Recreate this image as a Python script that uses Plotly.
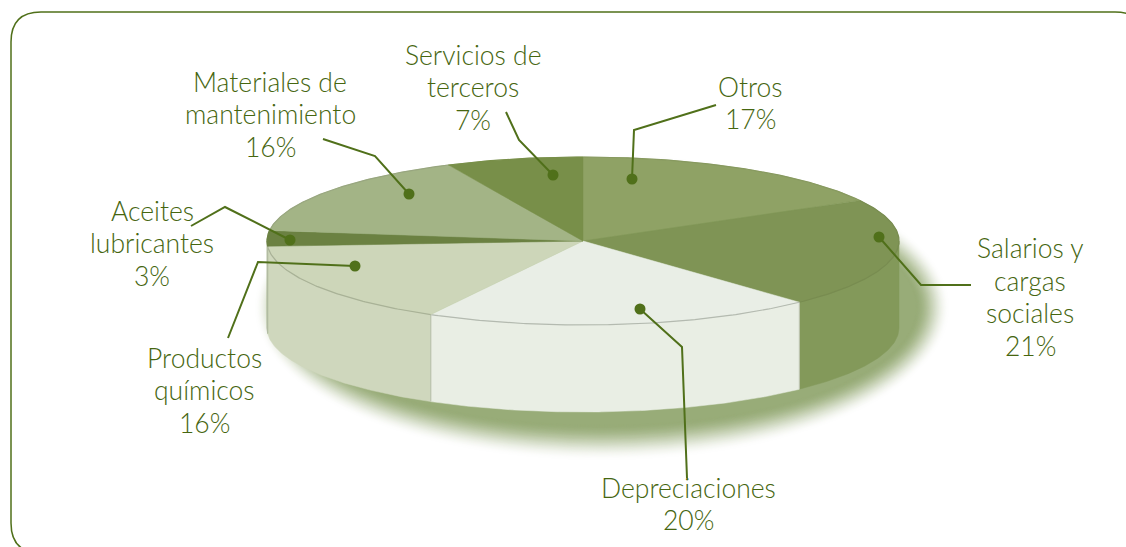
import numpy as np
import plotly.graph_objects as go

# Chart data, clockwise from the top of the pie
categories = ["Otros", "Salarios y<br>cargas<br>sociales", "Depreciaciones", "Productos<br>químicos",
              "Aceites<br>lubricantes", "Materiales de<br>mantenimiento", "Servicios de<br>terceros"]
values = [17, 21, 20, 16, 3, 16, 7]

# Colours of each slice
top_colors = ["#8fa265", "#7f9455", "#e9eee6", "#cdd6b9", "#6b8142", "#a3b486", "#788f49"]
side_colors = ["#8fa265", "#83995a", "#e9eee4", "#cfd7bd", "#6b8142", "#a3b486", "#788f49"]
edge_colors = ["#87995f", "#788c50", "#b4bab0", "#a9b297", "#6b8142", "#98a67f", "#788f49"]

# Where each label goes (pixels) and the leader line running from dot to label
label_pos = [(750, 103), (1030, 297), (688, 504), (204, 390), (152, 243), (270, 114), (473, 87)]
leader_x = [[632, 634, 716], [879, 921, 971], [640, 682, 687], [355, 258, 228],
            [290, 225, 191], [409, 375, 323], [553, 519, 506]]
leader_y = [[179, 130, 105], [237, 285, 285], [309, 347, 478], [266, 262, 338],
            [240, 207, 226], [194, 156, 139], [175, 140, 112]]

GREEN = "#50701a"
TEXT_GREEN = "#466610"
LINE_PITCH = 32.5
CX, CY, RX, RY, DEPTH = 583, 241, 316, 84, 87


def arc(t0, t1, dy=0):
    # points on the pie rim, angles in degrees clockwise from the top
    t = np.radians(np.linspace(t0, t1, max(int(abs(t1 - t0)) * 2, 2)))
    return CX + RX * np.sin(t), CY - RY * np.cos(t) + dy


fig = go.Figure()

# Blurred shadow under the pie, built from stacked ellipses
n_blur = 50
for i in range(n_blur):
    f = (i + 1) / n_blur
    s = f * f * (3 - 2 * f)
    col = "rgb(%d,%d,%d)" % (255 - s * 103, 255 - s * 83, 255 - s * 135)
    gx = 34 * (1 - f)
    gy = 36 * (1 - f)
    fig.add_shape(type="circle", x0=288 - gx, x1=916 + gx, y0=190 - gy, y1=425 + gy,
                  fillcolor=col, line_width=0, layer="below")

ends = np.cumsum(values) / sum(values) * 360
starts = np.concatenate([[0], ends[:-1]])

# Side wall, only the part facing the viewer
for t0, t1, col in zip(starts, ends, side_colors):
    a, b = max(t0, 90), min(t1, 270)
    if b <= a:
        continue
    x, y = arc(a, b)
    xb, yb = arc(a, b, DEPTH)
    fig.add_trace(go.Scatter(x=np.r_[x, xb[::-1], x[0]], y=np.r_[y, yb[::-1], y[0]], mode="lines",
                             fill="toself", fillcolor=col, line=dict(color=col, width=0.5),
                             hoverinfo="skip"))

# Corner lines where two side colours meet
for t in ends:
    if 90 < t < 270:
        x, y = arc(t, t)
        fig.add_trace(go.Scatter(x=[x[0], x[0]], y=[y[0], y[0] + DEPTH], mode="lines",
                                 line=dict(color="#b9c0ac", width=1), hoverinfo="skip"))

# Top of the pie
for t0, t1, col, edge in zip(starts, ends, top_colors, edge_colors):
    x, y = arc(t0, t1)
    fig.add_trace(go.Scatter(x=np.r_[CX, x, CX], y=np.r_[CY, y, CY], mode="lines", fill="toself",
                             fillcolor=col, line=dict(color=col, width=0.5), hoverinfo="skip"))
    fig.add_trace(go.Scatter(x=x, y=y, mode="lines", line=dict(color=edge, width=1.2), hoverinfo="skip"))

# Leader lines and dots
for lx, ly in zip(leader_x, leader_y):
    fig.add_trace(go.Scatter(x=lx, y=ly, mode="lines", line=dict(color=GREEN, width=2), hoverinfo="skip"))
    fig.add_trace(go.Scatter(x=lx[:1], y=ly[:1], mode="markers",
                             marker=dict(color=GREEN, size=11), hoverinfo="skip"))

# One annotation per text line, the default <br> spacing is too wide at this size
for name, val, (px, py) in zip(categories, values, label_pos):
    lines = name.split("<br>") + ["%d%%" % val]
    for i, line in enumerate(lines):
        y = py + (i - (len(lines) - 1) / 2) * LINE_PITCH
        fig.add_annotation(x=px, y=y, text=line, showarrow=False, align="center",
                           font=dict(family="Lato", size=26.5, color=TEXT_GREEN, weight=300))

# Rounded frame, it runs off the right and bottom of the page
fig.add_shape(type="path", path="M 11 523 L 11 42 Q 11 12 41 12 L 1115 12 Q 1145 12 1145 42 "
                                "L 1145 523 Q 1145 553 1115 553 L 41 553 Q 11 553 11 523 Z",
              line=dict(color=GREEN, width=1.5), layer="below")

fig.update_xaxes(range=[0, 1126], visible=False)
fig.update_yaxes(range=[547, 0], visible=False)
fig.update_layout(
    width=1126,
    height=547,
    margin=dict(l=0, r=0, t=0, b=0),
    paper_bgcolor="white",
    plot_bgcolor="white",
    showlegend=False,
)

# the page's default body margin would push the figure 8px off
fig.write_html("out.html", config=dict(displayModeBar=False),
               post_script="document.body.style.margin='0';document.body.style.overflow='hidden';")
